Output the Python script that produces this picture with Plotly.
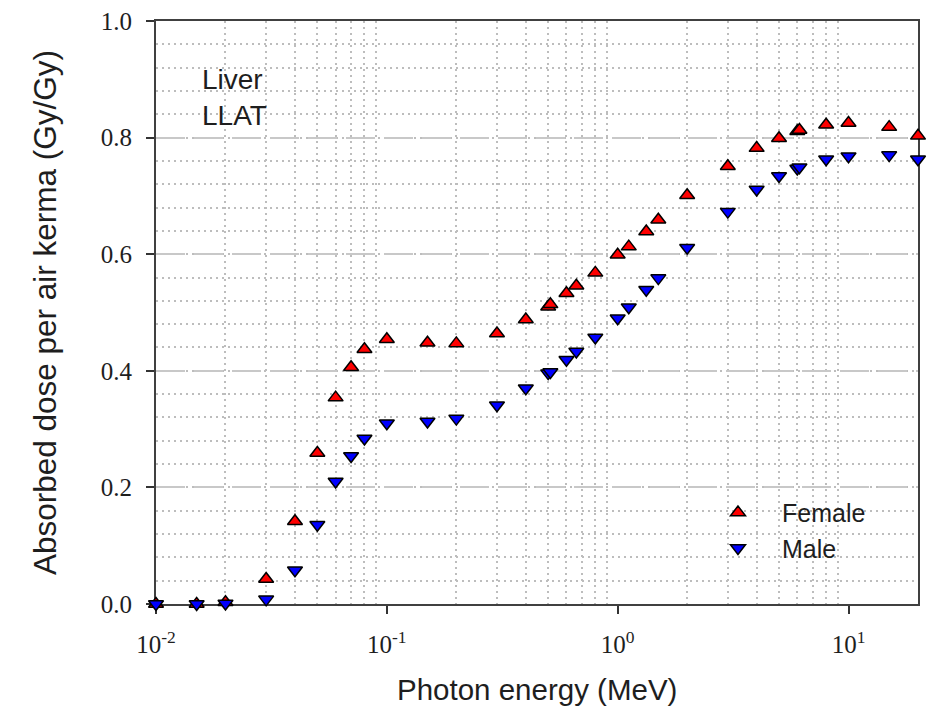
import plotly.graph_objects as go

# Photon energies (MeV)
energy = [0.01, 0.015, 0.02, 0.03, 0.04, 0.05, 0.06, 0.07, 0.08, 0.1, 0.15, 0.2,
          0.3, 0.4, 0.5, 0.511, 0.6, 0.662, 0.8, 1.0, 1.117, 1.33, 1.5, 2.0,
          3.0, 4.0, 5.0, 6.0, 6.129, 8.0, 10.0, 15.0, 20.0]

# Liver absorbed dose per air kerma (Gy/Gy), LLAT irradiation
female = [0.0, 0.0, 0.003, 0.043, 0.142, 0.259, 0.354, 0.406, 0.437, 0.454, 0.448, 0.447,
          0.464, 0.488, 0.510, 0.514, 0.533, 0.546, 0.568, 0.599, 0.613, 0.639, 0.659, 0.701,
          0.751, 0.782, 0.799, 0.811, 0.813, 0.822, 0.825, 0.818, 0.803]
male = [0.0, 0.0, 0.001, 0.008, 0.058, 0.136, 0.210, 0.254, 0.284, 0.310, 0.313, 0.318,
        0.341, 0.370, 0.396, 0.398, 0.419, 0.433, 0.457, 0.490, 0.509, 0.539, 0.559, 0.611,
        0.673, 0.711, 0.734, 0.747, 0.749, 0.763, 0.768, 0.770, 0.763]

x_ticks = [0.01, 0.1, 1, 10]
x_ticktext = ["10<sup>-2</sup>", "10<sup>-1</sup>", "10<sup>0</sup>", "10<sup>1</sup>"]
y_ticks = [0.0, 0.2, 0.4, 0.6, 0.8, 1.0]
x_minor = [k * 10.0 ** d for d in range(-2, 2) for k in range(2, 10) if k * 10.0 ** d <= 20]

SANS = "Arial, Liberation Sans, sans-serif"
SERIF = "Times New Roman, Liberation Serif, serif"
INK = "#1e1e1e"

fig = go.Figure()
fig.add_trace(go.Scatter(
    x=energy, y=female, mode="markers", name="Female", cliponaxis=False,
    marker=dict(symbol="triangle-up", size=13, color="#ff0000",
                line=dict(color="#000000", width=1.5)),
))
fig.add_trace(go.Scatter(
    x=energy, y=male, mode="markers", name="Male", cliponaxis=False,
    marker=dict(symbol="triangle-down", size=13, color="#0000ff",
                line=dict(color="#000000", width=1.5)),
))

fig.update_layout(
    width=927, height=712,
    margin=dict(l=156, r=9, t=21, b=108),
    paper_bgcolor="white", plot_bgcolor="white",
    font=dict(family=SANS, color=INK),
    showlegend=True,
    legend=dict(
        x=0.706, y=0.196, xanchor="left", yanchor="top",
        bgcolor="rgba(0,0,0,0)", borderwidth=0,
        font=dict(family=SANS, size=25, color=INK),
        itemwidth=78, tracegroupgap=0,
    ),
    xaxis=dict(
        type="log", range=[-2, 1.30103],
        tickvals=x_ticks, ticktext=x_ticktext,
        tickfont=dict(family=SERIF, size=25, color=INK),
        ticks="outside", ticklen=8, tickwidth=2, tickcolor="#333333",
        ticklabelstandoff=9,
        showline=True, linecolor="#404040", linewidth=2, mirror=True,
        showgrid=False, zeroline=False, layer="below traces",
        minor=dict(tickvals=x_minor, ticks="", showgrid=True,
                   gridcolor="#bdbdbd", gridwidth=1.5, griddash="2px,4px"),
    ),
    yaxis=dict(
        range=[0, 1.0], tickvals=y_ticks, tickformat=".1f",
        tickfont=dict(family=SERIF, size=25, color=INK),
        ticks="outside", ticklen=8, tickwidth=2, tickcolor="#333333",
        ticklabelstandoff=9,
        showline=True, linecolor="#404040", linewidth=2, mirror=True,
        showgrid=True, gridcolor="#c8c8c8", gridwidth=2, griddash="29px,9px",
        zeroline=False, layer="below traces",
        minor=dict(dtick=0.04, ticks="", showgrid=True,
                   gridcolor="#bdbdbd", gridwidth=1.5, griddash="2px,4px"),
        title=dict(text="Absorbed dose per air kerma (Gy/Gy)", standoff=35,
                   font=dict(family=SANS, size=31.5, color=INK)),
        automargin=False,
    ),
)

# Horizontal axis title
fig.add_annotation(text="Photon energy (MeV)", xref="paper", yref="paper",
                   x=0.5, y=-0.1475, xanchor="center", yanchor="middle",
                   showarrow=False, font=dict(family=SANS, size=29.5, color=INK))

# Organ / irradiation geometry label
fig.add_annotation(text="Liver<br>LLAT", xref="paper", yref="paper",
                   x=0.058, y=0.93, xanchor="left", yanchor="top", align="left",
                   showarrow=False, font=dict(family=SANS, size=28, color=INK))

fig.write_html("out.html")
